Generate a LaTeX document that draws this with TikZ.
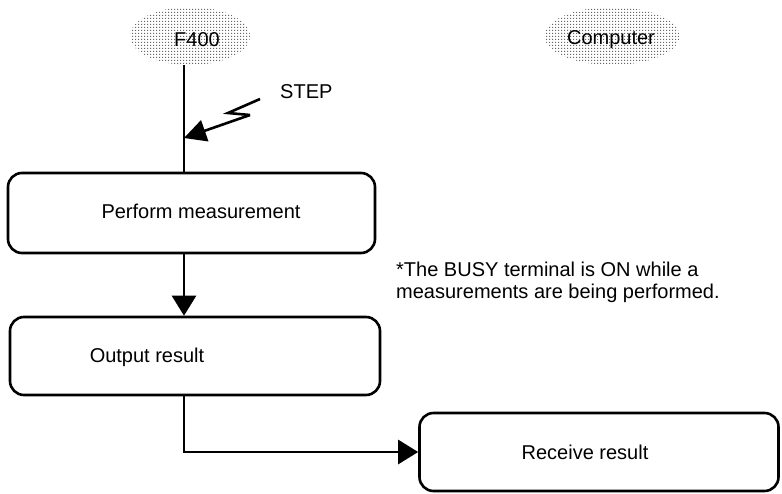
\documentclass[tikz,border=0pt]{standalone}
\usepackage{fontspec}
\setmainfont{Liberation Sans}
\usetikzlibrary{arrows.meta,patterns,calc,shapes.geometric}
\pgfdeclarepatternformonly{halftone}{\pgfpointorigin}{\pgfpoint{3pt}{3pt}}{\pgfpoint{3pt}{3pt}}{%
  \pgfpathrectangle{\pgfpoint{0pt}{0pt}}{\pgfpoint{1.4pt}{1.4pt}}\pgfusepath{fill}}
\begin{document}
\begin{tikzpicture}[x=1pt,y=-1pt,
  every node/.style={font=\fontsize{20}{22}\selectfont},
  stepbox/.style={draw,line width=2.6pt,rounded corners=14pt,inner sep=0pt},
  cloud/.style={ellipse,pattern=halftone,pattern color=black!60,inner sep=0pt},
  conn/.style={line width=2.6pt},
  tip/.style={-{Triangle[length=20pt,width=24pt]}}
]
\useasboundingbox (0,0) rectangle (782,493);
% ellipses
\node[cloud,minimum width=120pt,minimum height=58pt] (f400) at (190,36) {};
\node at (197,40) {F400};
\node[cloud,minimum width=135pt,minimum height=58pt] (comp) at (612,36) {};
\node at (611,40) {Computer};
% boxes
\node[stepbox,minimum width=367pt,minimum height=80pt] (b1) at (191.5,213) {};
\node at (201,211) {Perform measurement};
\node[stepbox,minimum width=370pt,minimum height=78pt] (b2) at (195,356) {};
\node at (147,357) {Output result};
\node[stepbox,minimum width=359pt,minimum height=78pt] (b3) at (599,452) {};
\node at (585,452) {Receive result};
% note
\node[anchor=north west,align=left,inner sep=0pt] (note) at (396,262) {*The BUSY terminal is ON while a\\measurements are being performed.};
% step signal
\node[anchor=west,inner sep=0pt] (step) at (280,92) {STEP};
\coordinate (cx) at (184,0);
\coordinate (s0) at (260,99);
\coordinate (s1) at (228,113);
\coordinate (s2) at (250,115);
\coordinate (s3) at (184,138);
% connectors
\draw[conn] (f400.south -| cx) -- (b1.north -| cx);
\draw[line width=2.6pt,line join=miter] (s0) -- (s1) -- (s2);
\draw[line width=2.6pt,-{Triangle[length=22pt,width=22pt]}] (s2) -- (s3);
\draw[conn,tip] (b1.south -| cx) -- (b2.north -| cx);
\draw[conn,tip] (b2.south -| cx) |- (b3.west);
\end{tikzpicture}
\end{document}
